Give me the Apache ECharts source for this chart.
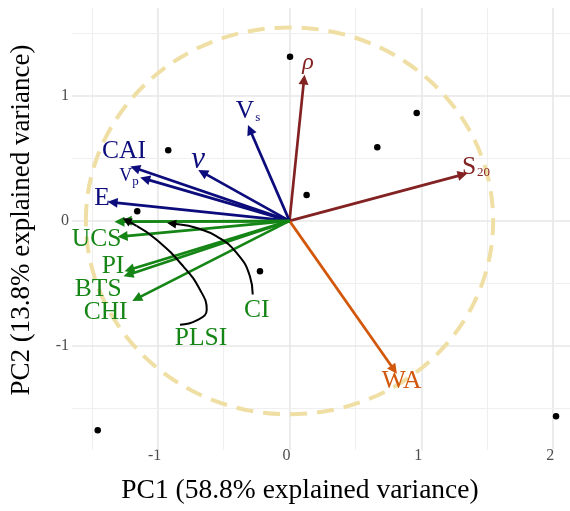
<!DOCTYPE html>
<html>
<head>
<meta charset="utf-8">
<script src="https://cdn.jsdelivr.net/npm/echarts@6/dist/echarts.min.js"></script>
<style>
  html, body { margin: 0; padding: 0; background: #fff; }
  #chart { width: 570px; height: 511px; }
</style>
</head>
<body>
<div id="chart"></div>
<script>
// axes
var xMin = -1.65, xMax = 2.128, yMin = -1.83, yMax = 1.70;
var xTickLabels = [-1, 0, 1, 2];
var yTickLabels = [-1, 0, 1];
var xMajor = [-1, 0, 1, 2], xMinor = [-1.5, -0.5, 0.5, 1.5];
var yMajor = [-1, 0, 1], yMinor = [-1.5, -0.5, 0.5, 1.5];
var circleRadius = 1.545;

// sample scores
var scoreX = [0.004, -0.92, -1.155, 0.965, 0.666, 0.13, -0.224, -1.455, 2.022];
var scoreY = [1.31, 0.563, 0.076, 0.862, 0.587, 0.207, -0.403, -1.673, -1.561];

// variable loadings
var loadNames = ['rho', 'S20', 'WA', 'Vs', 'nu', 'CAI', 'Vp', 'E', 'CI', 'PLSI', 'UCS', 'PI', 'BTS', 'CHI'];
var loadGroup = ['phys', 'phys', 'wa', 'elas', 'elas', 'elas', 'elas', 'elas', 'mech', 'mech', 'mech', 'mech', 'mech', 'mech'];
var loadX = [0.11, 1.314, 0.793, -0.30, -0.659, -1.172, -1.096, -1.342, -1.29, -1.235, -1.266, -1.215, -1.223, -1.159];
var loadY = [1.128, 0.369, -1.189, 0.728, 0.387, 0.422, 0.335, 0.148, -0.007, 0.0, -0.124, -0.39, -0.43, -0.621];

// label placement
var labelText = ['{it|ρ}', 'S{sub|20}', 'WA', 'V{sub|s}', '{nu|ν}', 'CAI', '{sm|V}{sub2|p}', 'E', 'CI', 'PLSI', 'UCS', 'PI', 'BTS', 'CHI'];
var labelX = [0.14, 1.415, 0.85, -0.315, -0.694, -1.255, -1.218, -1.423, -0.249, -0.671, -1.463, -1.339, -1.451, -1.395];
var labelY = [1.26, 0.43, -1.28, 0.872, 0.489, 0.553, 0.36, 0.18, -0.712, -0.941, -0.15, -0.363, -0.55, -0.728];

// curved pointers from PLSI and CI labels
var plsiCurveX = [-0.831, -0.704, -0.628, -0.679, -0.806, -1.008, -1.16];
var plsiCurveY = [-0.829, -0.795, -0.709, -0.55, -0.363, -0.15, -0.04];
var plsiHead = [[-1.16, -0.04], [-1.235, 0.004]];
var ciCurveX = [-0.279, -0.30, -0.401, -0.552, -0.704, -0.83];
var ciCurveY = [-0.589, -0.443, -0.256, -0.124, -0.057, -0.03];
var ciHead = [[-0.83, -0.03], [-0.894, -0.022]];

var groupColor = { phys: '#832222', wa: '#d2570a', elas: '#0c0c7c', mech: '#158515' };
var serif = 'Liberation Serif';

var chart = echarts.init(document.getElementById('chart'));

function gridLines() {
  var d = [];
  xMajor.forEach(function (v) { d.push({ xAxis: v, lineStyle: { width: 1.6, color: '#e7e7e7', type: 'solid' } }); });
  xMinor.forEach(function (v) { d.push({ xAxis: v, lineStyle: { width: 1.2, color: '#efefef', type: 'solid' } }); });
  yMajor.forEach(function (v) { d.push({ yAxis: v, lineStyle: { width: 1.6, color: '#e7e7e7', type: 'solid' } }); });
  yMinor.forEach(function (v) { d.push({ yAxis: v, lineStyle: { width: 1.2, color: '#efefef', type: 'solid' } }); });
  return d;
}

var arrowData = loadX.map(function (x, i) {
  return { coords: [[0, 0], [x, loadY[i]]], lineStyle: { color: groupColor[loadGroup[i]] } };
});
// green ones on top
arrowData.sort(function (a, b) {
  return (a.lineStyle.color === groupColor.mech ? 1 : 0) - (b.lineStyle.color === groupColor.mech ? 1 : 0);
});

var labelData = labelX.map(function (x, i) {
  return {
    value: [x, labelY[i]],
    label: { formatter: labelText[i], color: groupColor[loadGroup[i]] }
  };
});

var option = {
  animation: false,
  backgroundColor: '#fff',
  grid: { left: 72, right: 0, top: 8, bottom: 61 },
  xAxis: {
    type: 'value', min: xMin, max: xMax,
    name: 'PC1 (58.8% explained variance)',
    nameLocation: 'middle', nameGap: 27,
    nameTextStyle: { fontFamily: serif, fontSize: 27.5, color: '#000', padding: [0, 42, 0, 0] },
    axisLine: { show: false }, axisTick: { show: false }, splitLine: { show: false },
    axisLabel: { customValues: xTickLabels, fontFamily: serif, fontSize: 16, color: '#4d4d4d', margin: -2, padding: [0, 6, 0, 0] }
  },
  yAxis: {
    type: 'value', min: yMin, max: yMax,
    name: 'PC2 (13.8% explained variance)',
    nameLocation: 'middle', nameGap: 37,
    nameTextStyle: { fontFamily: serif, fontSize: 27, color: '#000', padding: [0, 0, 0, 18] },
    axisLine: { show: false }, axisTick: { show: false }, splitLine: { show: false },
    axisLabel: { customValues: yTickLabels, fontFamily: serif, fontSize: 16, color: '#4d4d4d', margin: 3 }
  },
  series: [
    {
      type: 'scatter', data: [], silent: true, z: 1,
      markLine: { z: 1, silent: true, symbol: 'none', label: { show: false }, animation: false, data: gridLines() }
    },
    {
      type: 'custom', z: 2, silent: true, data: [[0, 0]],
      renderItem: function (params, api) {
        var c = api.coord([0, 0]);
        var e = api.coord([circleRadius, circleRadius]);
        return {
          type: 'ellipse',
          shape: { cx: c[0], cy: c[1], rx: e[0] - c[0], ry: c[1] - e[1] },
          style: { fill: 'none', stroke: '#f0dfa4', lineWidth: 4, lineDash: [17, 10] }
        };
      }
    },
    {
      type: 'scatter', z: 10, symbolSize: 6.5, itemStyle: { color: '#000', opacity: 1 },
      data: scoreX.map(function (x, i) { return [x, scoreY[i]]; })
    },
    {
      type: 'lines', coordinateSystem: 'cartesian2d', z: 11,
      symbol: ['none', 'triangle'], symbolSize: 10,
      lineStyle: { width: 2.7, opacity: 1 },
      data: arrowData
    },
    {
      type: 'line', z: 12, smooth: 0.5, showSymbol: false, symbol: 'none',
      lineStyle: { color: '#000', width: 2 },
      data: plsiCurveX.map(function (x, i) { return [x, plsiCurveY[i]]; })
    },
    {
      type: 'line', z: 12, smooth: 0.5, showSymbol: false, symbol: 'none',
      lineStyle: { color: '#000', width: 2 },
      data: ciCurveX.map(function (x, i) { return [x, ciCurveY[i]]; })
    },
    {
      type: 'lines', coordinateSystem: 'cartesian2d', z: 12,
      symbol: ['none', 'triangle'], symbolSize: 9,
      lineStyle: { width: 2, color: '#000', opacity: 1 },
      data: [{ coords: plsiHead }, { coords: ciHead }]
    },
    {
      type: 'scatter', z: 13, symbolSize: 0, silent: true,
      itemStyle: { opacity: 1 },
      label: {
        show: true, position: 'inside', fontFamily: serif, fontSize: 25.5, opacity: 1,
        rich: {
          sub: { fontFamily: serif, fontSize: 13, padding: [12, 0, 0, 1] },
          sm: { fontFamily: serif, fontSize: 18 },
          sub2: { fontFamily: serif, fontSize: 13, padding: [11, 0, 0, 0] },
          it: { fontFamily: serif, fontSize: 24, fontStyle: 'italic' },
          nu: { fontFamily: serif, fontSize: 31, fontStyle: 'italic' }
        }
      },
      data: labelData
    }
  ]
};
chart.setOption(option);
</script>
</body>
</html>
